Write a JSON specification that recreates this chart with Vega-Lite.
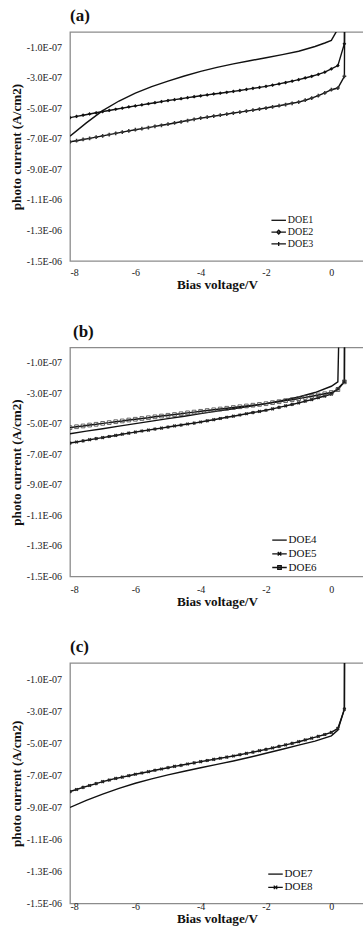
{
  "$schema": "https://vega.github.io/schema/vega-lite/v6.json",
  "background": "white",
  "padding": {"left": 8, "top": 6, "right": 0, "bottom": 0},
  "config": {
    "font": "Liberation Serif",
    "view": {"stroke": "#8c8c8c", "strokeWidth": 1.3},
    "axis": {"grid": false, "domain": false, "ticks": false, "tickSize": 0, "labelFont": "Liberation Serif", "labelFontSize": 10, "labelColor": "#222", "titleFont": "Liberation Serif", "titleFontWeight": "bold", "titleFontSize": 13.2, "titleColor": "#111"},
    "title": {"font": "Liberation Serif", "fontWeight": "bold", "fontSize": 17, "anchor": "start", "frame": "group", "color": "#111", "offset": 7},
    "legend": {"labelFont": "Liberation Serif", "labelColor": "#111", "symbolStrokeWidth": 1.3, "symbolStrokeColor": "#111", "symbolFillColor": "transparent", "symbolOpacity": 1, "padding": 0, "labelOffset": 3, "symbolSize": 100}
  },
  "datasets": {
    "a": [
      {"series": "DOE1", "bias": -8, "current": -6.82e-7},
      {"series": "DOE1", "bias": -7.5, "current": -5.95e-7},
      {"series": "DOE1", "bias": -7, "current": -5.15e-7},
      {"series": "DOE1", "bias": -6.5, "current": -4.52e-7},
      {"series": "DOE1", "bias": -6, "current": -4.0e-7},
      {"series": "DOE1", "bias": -5.5, "current": -3.58e-7},
      {"series": "DOE1", "bias": -5, "current": -3.22e-7},
      {"series": "DOE1", "bias": -4.5, "current": -2.88e-7},
      {"series": "DOE1", "bias": -4, "current": -2.58e-7},
      {"series": "DOE1", "bias": -3.5, "current": -2.32e-7},
      {"series": "DOE1", "bias": -3, "current": -2.09e-7},
      {"series": "DOE1", "bias": -2.5, "current": -1.88e-7},
      {"series": "DOE1", "bias": -2, "current": -1.69e-7},
      {"series": "DOE1", "bias": -1.5, "current": -1.48e-7},
      {"series": "DOE1", "bias": -1, "current": -1.26e-7},
      {"series": "DOE1", "bias": -0.5, "current": -0.95e-7},
      {"series": "DOE1", "bias": -0.2, "current": -0.72e-7},
      {"series": "DOE1", "bias": 0, "current": -0.55e-7},
      {"series": "DOE1", "bias": 0.2, "current": 0.2e-7},
      {"series": "DOE1", "bias": 0.4, "current": 2e-6},
      {"series": "DOE2", "bias": -8, "current": -5.61e-7},
      {"series": "DOE2", "bias": -7.8, "current": -5.53e-7},
      {"series": "DOE2", "bias": -7.6, "current": -5.45e-7},
      {"series": "DOE2", "bias": -7.4, "current": -5.37e-7},
      {"series": "DOE2", "bias": -7.2, "current": -5.29e-7},
      {"series": "DOE2", "bias": -7, "current": -5.21e-7},
      {"series": "DOE2", "bias": -6.8, "current": -5.14e-7},
      {"series": "DOE2", "bias": -6.6, "current": -5.06e-7},
      {"series": "DOE2", "bias": -6.4, "current": -4.99e-7},
      {"series": "DOE2", "bias": -6.2, "current": -4.91e-7},
      {"series": "DOE2", "bias": -6, "current": -4.84e-7},
      {"series": "DOE2", "bias": -5.8, "current": -4.77e-7},
      {"series": "DOE2", "bias": -5.6, "current": -4.7e-7},
      {"series": "DOE2", "bias": -5.4, "current": -4.63e-7},
      {"series": "DOE2", "bias": -5.2, "current": -4.56e-7},
      {"series": "DOE2", "bias": -5, "current": -4.49e-7},
      {"series": "DOE2", "bias": -4.8, "current": -4.43e-7},
      {"series": "DOE2", "bias": -4.6, "current": -4.37e-7},
      {"series": "DOE2", "bias": -4.4, "current": -4.3e-7},
      {"series": "DOE2", "bias": -4.2, "current": -4.24e-7},
      {"series": "DOE2", "bias": -4, "current": -4.18e-7},
      {"series": "DOE2", "bias": -3.8, "current": -4.12e-7},
      {"series": "DOE2", "bias": -3.6, "current": -4.06e-7},
      {"series": "DOE2", "bias": -3.4, "current": -4.01e-7},
      {"series": "DOE2", "bias": -3.2, "current": -3.95e-7},
      {"series": "DOE2", "bias": -3, "current": -3.89e-7},
      {"series": "DOE2", "bias": -2.8, "current": -3.83e-7},
      {"series": "DOE2", "bias": -2.6, "current": -3.76e-7},
      {"series": "DOE2", "bias": -2.4, "current": -3.69e-7},
      {"series": "DOE2", "bias": -2.2, "current": -3.63e-7},
      {"series": "DOE2", "bias": -2, "current": -3.56e-7},
      {"series": "DOE2", "bias": -1.8, "current": -3.48e-7},
      {"series": "DOE2", "bias": -1.6, "current": -3.4e-7},
      {"series": "DOE2", "bias": -1.4, "current": -3.31e-7},
      {"series": "DOE2", "bias": -1.2, "current": -3.22e-7},
      {"series": "DOE2", "bias": -1, "current": -3.12e-7},
      {"series": "DOE2", "bias": -0.8, "current": -3.01e-7},
      {"series": "DOE2", "bias": -0.6, "current": -2.9e-7},
      {"series": "DOE2", "bias": -0.4, "current": -2.78e-7},
      {"series": "DOE2", "bias": -0.2, "current": -2.63e-7},
      {"series": "DOE2", "bias": 0, "current": -2.42e-7},
      {"series": "DOE2", "bias": 0.2, "current": -2.2e-7},
      {"series": "DOE2", "bias": 0.4, "current": -0.77e-7},
      {"series": "DOE2", "bias": 0.42, "current": 2e-6},
      {"series": "DOE3", "bias": -8, "current": -7.19e-7},
      {"series": "DOE3", "bias": -7.8, "current": -7.12e-7},
      {"series": "DOE3", "bias": -7.6, "current": -7.04e-7},
      {"series": "DOE3", "bias": -7.4, "current": -6.97e-7},
      {"series": "DOE3", "bias": -7.2, "current": -6.89e-7},
      {"series": "DOE3", "bias": -7, "current": -6.8e-7},
      {"series": "DOE3", "bias": -6.8, "current": -6.72e-7},
      {"series": "DOE3", "bias": -6.6, "current": -6.64e-7},
      {"series": "DOE3", "bias": -6.4, "current": -6.56e-7},
      {"series": "DOE3", "bias": -6.2, "current": -6.48e-7},
      {"series": "DOE3", "bias": -6, "current": -6.4e-7},
      {"series": "DOE3", "bias": -5.8, "current": -6.33e-7},
      {"series": "DOE3", "bias": -5.6, "current": -6.26e-7},
      {"series": "DOE3", "bias": -5.4, "current": -6.18e-7},
      {"series": "DOE3", "bias": -5.2, "current": -6.11e-7},
      {"series": "DOE3", "bias": -5, "current": -6.04e-7},
      {"series": "DOE3", "bias": -4.8, "current": -5.96e-7},
      {"series": "DOE3", "bias": -4.6, "current": -5.88e-7},
      {"series": "DOE3", "bias": -4.4, "current": -5.8e-7},
      {"series": "DOE3", "bias": -4.2, "current": -5.72e-7},
      {"series": "DOE3", "bias": -4, "current": -5.64e-7},
      {"series": "DOE3", "bias": -3.8, "current": -5.58e-7},
      {"series": "DOE3", "bias": -3.6, "current": -5.51e-7},
      {"series": "DOE3", "bias": -3.4, "current": -5.45e-7},
      {"series": "DOE3", "bias": -3.2, "current": -5.38e-7},
      {"series": "DOE3", "bias": -3, "current": -5.31e-7},
      {"series": "DOE3", "bias": -2.8, "current": -5.25e-7},
      {"series": "DOE3", "bias": -2.6, "current": -5.18e-7},
      {"series": "DOE3", "bias": -2.4, "current": -5.12e-7},
      {"series": "DOE3", "bias": -2.2, "current": -5.05e-7},
      {"series": "DOE3", "bias": -2, "current": -4.98e-7},
      {"series": "DOE3", "bias": -1.8, "current": -4.9e-7},
      {"series": "DOE3", "bias": -1.6, "current": -4.83e-7},
      {"series": "DOE3", "bias": -1.4, "current": -4.75e-7},
      {"series": "DOE3", "bias": -1.2, "current": -4.67e-7},
      {"series": "DOE3", "bias": -1, "current": -4.59e-7},
      {"series": "DOE3", "bias": -0.8, "current": -4.47e-7},
      {"series": "DOE3", "bias": -0.6, "current": -4.33e-7},
      {"series": "DOE3", "bias": -0.4, "current": -4.17e-7},
      {"series": "DOE3", "bias": -0.2, "current": -3.99e-7},
      {"series": "DOE3", "bias": 0, "current": -3.78e-7},
      {"series": "DOE3", "bias": 0.2, "current": -3.67e-7},
      {"series": "DOE3", "bias": 0.4, "current": -2.9e-7},
      {"series": "DOE3", "bias": 0.45, "current": 2e-6}
    ],
    "b": [
      {"series": "DOE4", "bias": -8, "current": -5.65e-7},
      {"series": "DOE4", "bias": -7.5, "current": -5.48e-7},
      {"series": "DOE4", "bias": -7, "current": -5.32e-7},
      {"series": "DOE4", "bias": -6.5, "current": -5.15e-7},
      {"series": "DOE4", "bias": -6, "current": -4.99e-7},
      {"series": "DOE4", "bias": -5.5, "current": -4.82e-7},
      {"series": "DOE4", "bias": -5, "current": -4.66e-7},
      {"series": "DOE4", "bias": -4.5, "current": -4.5e-7},
      {"series": "DOE4", "bias": -4, "current": -4.33e-7},
      {"series": "DOE4", "bias": -3.5, "current": -4.17e-7},
      {"series": "DOE4", "bias": -3, "current": -4.01e-7},
      {"series": "DOE4", "bias": -2.5, "current": -3.85e-7},
      {"series": "DOE4", "bias": -2, "current": -3.68e-7},
      {"series": "DOE4", "bias": -1.5, "current": -3.47e-7},
      {"series": "DOE4", "bias": -1, "current": -3.24e-7},
      {"series": "DOE4", "bias": -0.5, "current": -2.95e-7},
      {"series": "DOE4", "bias": 0, "current": -2.54e-7},
      {"series": "DOE4", "bias": 0.2, "current": -2.25e-7},
      {"series": "DOE4", "bias": 0.42, "current": 2e-6},
      {"series": "DOE5", "bias": -8, "current": -6.26e-7},
      {"series": "DOE5", "bias": -7.8, "current": -6.19e-7},
      {"series": "DOE5", "bias": -7.6, "current": -6.12e-7},
      {"series": "DOE5", "bias": -7.4, "current": -6.04e-7},
      {"series": "DOE5", "bias": -7.2, "current": -5.97e-7},
      {"series": "DOE5", "bias": -7, "current": -5.9e-7},
      {"series": "DOE5", "bias": -6.8, "current": -5.83e-7},
      {"series": "DOE5", "bias": -6.6, "current": -5.76e-7},
      {"series": "DOE5", "bias": -6.4, "current": -5.68e-7},
      {"series": "DOE5", "bias": -6.2, "current": -5.61e-7},
      {"series": "DOE5", "bias": -6, "current": -5.54e-7},
      {"series": "DOE5", "bias": -5.8, "current": -5.47e-7},
      {"series": "DOE5", "bias": -5.6, "current": -5.41e-7},
      {"series": "DOE5", "bias": -5.4, "current": -5.34e-7},
      {"series": "DOE5", "bias": -5.2, "current": -5.28e-7},
      {"series": "DOE5", "bias": -5, "current": -5.21e-7},
      {"series": "DOE5", "bias": -4.8, "current": -5.14e-7},
      {"series": "DOE5", "bias": -4.6, "current": -5.08e-7},
      {"series": "DOE5", "bias": -4.4, "current": -5.01e-7},
      {"series": "DOE5", "bias": -4.2, "current": -4.95e-7},
      {"series": "DOE5", "bias": -4, "current": -4.88e-7},
      {"series": "DOE5", "bias": -3.8, "current": -4.8e-7},
      {"series": "DOE5", "bias": -3.6, "current": -4.73e-7},
      {"series": "DOE5", "bias": -3.4, "current": -4.65e-7},
      {"series": "DOE5", "bias": -3.2, "current": -4.57e-7},
      {"series": "DOE5", "bias": -3, "current": -4.5e-7},
      {"series": "DOE5", "bias": -2.8, "current": -4.42e-7},
      {"series": "DOE5", "bias": -2.6, "current": -4.34e-7},
      {"series": "DOE5", "bias": -2.4, "current": -4.26e-7},
      {"series": "DOE5", "bias": -2.2, "current": -4.19e-7},
      {"series": "DOE5", "bias": -2, "current": -4.11e-7},
      {"series": "DOE5", "bias": -1.8, "current": -4.02e-7},
      {"series": "DOE5", "bias": -1.6, "current": -3.92e-7},
      {"series": "DOE5", "bias": -1.4, "current": -3.82e-7},
      {"series": "DOE5", "bias": -1.2, "current": -3.73e-7},
      {"series": "DOE5", "bias": -1, "current": -3.63e-7},
      {"series": "DOE5", "bias": -0.8, "current": -3.52e-7},
      {"series": "DOE5", "bias": -0.6, "current": -3.41e-7},
      {"series": "DOE5", "bias": -0.4, "current": -3.29e-7},
      {"series": "DOE5", "bias": -0.2, "current": -3.18e-7},
      {"series": "DOE5", "bias": 0, "current": -3.06e-7},
      {"series": "DOE5", "bias": 0.2, "current": -2.69e-7},
      {"series": "DOE5", "bias": 0.4, "current": -2.25e-7},
      {"series": "DOE5", "bias": 0.43, "current": 2e-6},
      {"series": "DOE6", "bias": -8, "current": -5.25e-7},
      {"series": "DOE6", "bias": -7.8, "current": -5.19e-7},
      {"series": "DOE6", "bias": -7.6, "current": -5.14e-7},
      {"series": "DOE6", "bias": -7.4, "current": -5.08e-7},
      {"series": "DOE6", "bias": -7.2, "current": -5.03e-7},
      {"series": "DOE6", "bias": -7, "current": -4.97e-7},
      {"series": "DOE6", "bias": -6.8, "current": -4.92e-7},
      {"series": "DOE6", "bias": -6.6, "current": -4.86e-7},
      {"series": "DOE6", "bias": -6.4, "current": -4.81e-7},
      {"series": "DOE6", "bias": -6.2, "current": -4.75e-7},
      {"series": "DOE6", "bias": -6, "current": -4.7e-7},
      {"series": "DOE6", "bias": -5.8, "current": -4.65e-7},
      {"series": "DOE6", "bias": -5.6, "current": -4.6e-7},
      {"series": "DOE6", "bias": -5.4, "current": -4.54e-7},
      {"series": "DOE6", "bias": -5.2, "current": -4.49e-7},
      {"series": "DOE6", "bias": -5, "current": -4.44e-7},
      {"series": "DOE6", "bias": -4.8, "current": -4.39e-7},
      {"series": "DOE6", "bias": -4.6, "current": -4.34e-7},
      {"series": "DOE6", "bias": -4.4, "current": -4.28e-7},
      {"series": "DOE6", "bias": -4.2, "current": -4.23e-7},
      {"series": "DOE6", "bias": -4, "current": -4.18e-7},
      {"series": "DOE6", "bias": -3.8, "current": -4.13e-7},
      {"series": "DOE6", "bias": -3.6, "current": -4.08e-7},
      {"series": "DOE6", "bias": -3.4, "current": -4.03e-7},
      {"series": "DOE6", "bias": -3.2, "current": -3.98e-7},
      {"series": "DOE6", "bias": -3, "current": -3.93e-7},
      {"series": "DOE6", "bias": -2.8, "current": -3.88e-7},
      {"series": "DOE6", "bias": -2.6, "current": -3.83e-7},
      {"series": "DOE6", "bias": -2.4, "current": -3.78e-7},
      {"series": "DOE6", "bias": -2.2, "current": -3.73e-7},
      {"series": "DOE6", "bias": -2, "current": -3.68e-7},
      {"series": "DOE6", "bias": -1.8, "current": -3.61e-7},
      {"series": "DOE6", "bias": -1.6, "current": -3.55e-7},
      {"series": "DOE6", "bias": -1.4, "current": -3.48e-7},
      {"series": "DOE6", "bias": -1.2, "current": -3.42e-7},
      {"series": "DOE6", "bias": -1, "current": -3.35e-7},
      {"series": "DOE6", "bias": -0.8, "current": -3.27e-7},
      {"series": "DOE6", "bias": -0.6, "current": -3.19e-7},
      {"series": "DOE6", "bias": -0.4, "current": -3.11e-7},
      {"series": "DOE6", "bias": -0.2, "current": -3.03e-7},
      {"series": "DOE6", "bias": 0, "current": -2.95e-7},
      {"series": "DOE6", "bias": 0.2, "current": -2.76e-7},
      {"series": "DOE6", "bias": 0.4, "current": -2.25e-7},
      {"series": "DOE6", "bias": 0.43, "current": 2e-6}
    ],
    "c": [
      {"series": "DOE7", "bias": -8, "current": -9.01e-7},
      {"series": "DOE7", "bias": -7.5, "current": -8.57e-7},
      {"series": "DOE7", "bias": -7, "current": -8.18e-7},
      {"series": "DOE7", "bias": -6.5, "current": -7.82e-7},
      {"series": "DOE7", "bias": -6, "current": -7.5e-7},
      {"series": "DOE7", "bias": -5.5, "current": -7.23e-7},
      {"series": "DOE7", "bias": -5, "current": -6.98e-7},
      {"series": "DOE7", "bias": -4.5, "current": -6.75e-7},
      {"series": "DOE7", "bias": -4, "current": -6.53e-7},
      {"series": "DOE7", "bias": -3.5, "current": -6.32e-7},
      {"series": "DOE7", "bias": -3, "current": -6.11e-7},
      {"series": "DOE7", "bias": -2.5, "current": -5.88e-7},
      {"series": "DOE7", "bias": -2, "current": -5.63e-7},
      {"series": "DOE7", "bias": -1.5, "current": -5.38e-7},
      {"series": "DOE7", "bias": -1, "current": -5.12e-7},
      {"series": "DOE7", "bias": -0.5, "current": -4.87e-7},
      {"series": "DOE7", "bias": 0, "current": -4.54e-7},
      {"series": "DOE7", "bias": 0.2, "current": -4.18e-7},
      {"series": "DOE7", "bias": 0.4, "current": -2.88e-7},
      {"series": "DOE7", "bias": 0.42, "current": 2e-6},
      {"series": "DOE8", "bias": -8, "current": -8.02e-7},
      {"series": "DOE8", "bias": -7.8, "current": -7.89e-7},
      {"series": "DOE8", "bias": -7.6, "current": -7.76e-7},
      {"series": "DOE8", "bias": -7.4, "current": -7.64e-7},
      {"series": "DOE8", "bias": -7.2, "current": -7.52e-7},
      {"series": "DOE8", "bias": -7, "current": -7.4e-7},
      {"series": "DOE8", "bias": -6.8, "current": -7.3e-7},
      {"series": "DOE8", "bias": -6.6, "current": -7.2e-7},
      {"series": "DOE8", "bias": -6.4, "current": -7.12e-7},
      {"series": "DOE8", "bias": -6.2, "current": -7.03e-7},
      {"series": "DOE8", "bias": -6, "current": -6.94e-7},
      {"series": "DOE8", "bias": -5.8, "current": -6.86e-7},
      {"series": "DOE8", "bias": -5.6, "current": -6.78e-7},
      {"series": "DOE8", "bias": -5.4, "current": -6.69e-7},
      {"series": "DOE8", "bias": -5.2, "current": -6.61e-7},
      {"series": "DOE8", "bias": -5, "current": -6.53e-7},
      {"series": "DOE8", "bias": -4.8, "current": -6.45e-7},
      {"series": "DOE8", "bias": -4.6, "current": -6.38e-7},
      {"series": "DOE8", "bias": -4.4, "current": -6.3e-7},
      {"series": "DOE8", "bias": -4.2, "current": -6.23e-7},
      {"series": "DOE8", "bias": -4, "current": -6.15e-7},
      {"series": "DOE8", "bias": -3.8, "current": -6.08e-7},
      {"series": "DOE8", "bias": -3.6, "current": -6.01e-7},
      {"series": "DOE8", "bias": -3.4, "current": -5.94e-7},
      {"series": "DOE8", "bias": -3.2, "current": -5.87e-7},
      {"series": "DOE8", "bias": -3, "current": -5.8e-7},
      {"series": "DOE8", "bias": -2.8, "current": -5.72e-7},
      {"series": "DOE8", "bias": -2.6, "current": -5.64e-7},
      {"series": "DOE8", "bias": -2.4, "current": -5.56e-7},
      {"series": "DOE8", "bias": -2.2, "current": -5.47e-7},
      {"series": "DOE8", "bias": -2, "current": -5.39e-7},
      {"series": "DOE8", "bias": -1.8, "current": -5.3e-7},
      {"series": "DOE8", "bias": -1.6, "current": -5.2e-7},
      {"series": "DOE8", "bias": -1.4, "current": -5.11e-7},
      {"series": "DOE8", "bias": -1.2, "current": -5.01e-7},
      {"series": "DOE8", "bias": -1, "current": -4.91e-7},
      {"series": "DOE8", "bias": -0.8, "current": -4.8e-7},
      {"series": "DOE8", "bias": -0.6, "current": -4.69e-7},
      {"series": "DOE8", "bias": -0.4, "current": -4.58e-7},
      {"series": "DOE8", "bias": -0.2, "current": -4.46e-7},
      {"series": "DOE8", "bias": 0, "current": -4.33e-7},
      {"series": "DOE8", "bias": 0.2, "current": -4.08e-7},
      {"series": "DOE8", "bias": 0.4, "current": -2.88e-7},
      {"series": "DOE8", "bias": 0.43, "current": 2e-6}
    ]
  },
  "bounds": "flush",
  "spacing": 86.5,
  "resolve": {"scale": {"shape": "independent"}, "legend": {"shape": "independent"}},
  "vconcat": [
    {
      "title": {"text": "(a)"},
      "width": 294,
      "height": 229,
      "data": {"name": "a"},
      "encoding": {
        "x": {"field": "bias", "type": "quantitative", "scale": {"domain": [-8, 1], "nice": false, "zero": false}, "axis": {"values": [-8, -6, -4, -2, 0], "labelExpr": "datum.value === 0 ? '0' : '-' + abs(datum.value)", "title": "Bias voltage/V", "labelPadding": 11.3, "labelBaseline": "middle", "titleY": 23.2, "titleBaseline": "middle"}},
        "y": {"field": "current", "type": "quantitative", "scale": {"domain": [-1.5e-6, 0], "nice": false, "zero": false}, "axis": {"values": [-1e-7, -3e-7, -5e-7, -7e-7, -9e-7, -1.1e-6, -1.3e-6, -1.5e-6], "labelExpr": "datum.value > -9.5e-7 ? '-' + format(-datum.value * 1e7, '.1f') + 'E-07' : '-' + format(-datum.value * 1e6, '.1f') + 'E-06'", "title": "photo current (A/cm2)", "labelPadding": 8.5, "titlePadding": 3}}
      },
      "layer": [
        {"data": {"values": [{}]}, "mark": {"type": "rule", "color": "#8c8c8c", "strokeWidth": 1.3}, "encoding": {"x": {"datum": 0}, "y": {"datum": -1.5e-6}, "y2": {"datum": 0}}},
        {"mark": {"type": "line", "clip": true, "strokeWidth": 1.4, "color": "#111"}, "encoding": {"detail": {"field": "series", "type": "nominal"}}},
        {"transform": [{"filter": "datum.series === 'DOE2'"}], "mark": {"type": "point", "filled": true, "size": 14, "clip": true, "opacity": 1, "color": "#111", "shape": "diamond"}, "encoding": {}},
        {"transform": [{"filter": "datum.series === 'DOE3'"}], "mark": {"type": "point", "filled": true, "size": 14, "clip": true, "opacity": 1, "color": "#333", "shape": "cross"}, "encoding": {}},
        {"transform": [{"filter": "datum.bias > 100"}], "mark": {"type": "point", "filled": false, "color": "#111", "strokeWidth": 1.3}, "encoding": {"shape": {"field": "series", "type": "nominal", "scale": {"domain": ["DOE1", "DOE2", "DOE3"], "range": ["M-1.45,0L1.45,0", "M-1.45,0L1.45,0M-0.4,0L0,-0.4L0.4,0L0,0.4Z", "M-1.45,0L1.45,0M0,-0.4L0,0.4"]}, "legend": {"title": null, "orient": "none", "legendX": 202.7, "legendY": 182.3, "labelFontSize": 10, "rowPadding": 0.8}}}}
      ]
    },
    {
      "title": {"text": "(b)", "dx": 3},
      "width": 294,
      "height": 229,
      "data": {"name": "b"},
      "encoding": {
        "x": {"field": "bias", "type": "quantitative", "scale": {"domain": [-8, 1], "nice": false, "zero": false}, "axis": {"values": [-8, -6, -4, -2, 0], "labelExpr": "datum.value === 0 ? '0' : '-' + abs(datum.value)", "title": "Bias voltage/V", "labelPadding": 12.7, "labelBaseline": "middle", "titleY": 24.6, "titleBaseline": "middle"}},
        "y": {"field": "current", "type": "quantitative", "scale": {"domain": [-1.5e-6, 0], "nice": false, "zero": false}, "axis": {"values": [-1e-7, -3e-7, -5e-7, -7e-7, -9e-7, -1.1e-6, -1.3e-6, -1.5e-6], "labelExpr": "datum.value > -9.5e-7 ? '-' + format(-datum.value * 1e7, '.1f') + 'E-07' : '-' + format(-datum.value * 1e6, '.1f') + 'E-06'", "title": "photo current (A/cm2)", "labelPadding": 8.5, "titlePadding": 3}}
      },
      "layer": [
        {"data": {"values": [{}]}, "mark": {"type": "rule", "color": "#8c8c8c", "strokeWidth": 1.3}, "encoding": {"x": {"datum": 0}, "y": {"datum": -1.5e-6}, "y2": {"datum": 0}}},
        {"mark": {"type": "line", "clip": true, "strokeWidth": 1.4, "color": "#111"}, "encoding": {"detail": {"field": "series", "type": "nominal"}}},
        {"transform": [{"filter": "datum.series === 'DOE5'"}], "mark": {"type": "point", "filled": true, "size": 14, "clip": true, "opacity": 1, "color": "#222", "shape": "cross", "angle": 45}, "encoding": {}},
        {"transform": [{"filter": "datum.series === 'DOE6'"}], "mark": {"type": "point", "filled": false, "size": 14, "clip": true, "opacity": 1, "color": "#444", "strokeWidth": 0.8, "shape": "square"}, "encoding": {}},
        {"transform": [{"filter": "datum.bias > 100"}], "mark": {"type": "point", "filled": false, "color": "#111", "strokeWidth": 1.3}, "encoding": {"shape": {"field": "series", "type": "nominal", "scale": {"domain": ["DOE4", "DOE5", "DOE6"], "range": ["M-1.45,0L1.45,0", "M-1.45,0L1.45,0M-0.35,-0.35L0.35,0.35M-0.35,0.35L0.35,-0.35", "M-1.45,0L1.45,0M-0.35,-0.35L0.35,-0.35L0.35,0.35L-0.35,0.35Z"]}, "legend": {"title": null, "orient": "none", "legendX": 203.5, "legendY": 186.6, "labelFontSize": 11, "rowPadding": 2.7}}}}
      ]
    },
    {
      "title": {"text": "(c)"},
      "width": 294,
      "height": 240.5,
      "data": {"name": "c"},
      "encoding": {
        "x": {"field": "bias", "type": "quantitative", "scale": {"domain": [-8, 1], "nice": false, "zero": false}, "axis": {"values": [-8, -6, -4, -2, 0], "labelExpr": "datum.value === 0 ? '0' : '-' + abs(datum.value)", "title": "Bias voltage/V", "labelPadding": 3, "labelBaseline": "middle", "titleY": 15.3, "titleBaseline": "middle"}},
        "y": {"field": "current", "type": "quantitative", "scale": {"domain": [-1.5e-6, 0], "nice": false, "zero": false}, "axis": {"values": [-1e-7, -3e-7, -5e-7, -7e-7, -9e-7, -1.1e-6, -1.3e-6, -1.5e-6], "labelExpr": "datum.value > -9.5e-7 ? '-' + format(-datum.value * 1e7, '.1f') + 'E-07' : '-' + format(-datum.value * 1e6, '.1f') + 'E-06'", "title": "photo current (A/cm2)", "labelPadding": 8.5, "titlePadding": 3}}
      },
      "layer": [
        {"data": {"values": [{}]}, "mark": {"type": "rule", "color": "#8c8c8c", "strokeWidth": 1.3}, "encoding": {"x": {"datum": 0}, "y": {"datum": -1.5e-6}, "y2": {"datum": 0}}},
        {"mark": {"type": "line", "clip": true, "strokeWidth": 1.4, "color": "#111"}, "encoding": {"detail": {"field": "series", "type": "nominal"}}},
        {"transform": [{"filter": "datum.series === 'DOE8'"}], "mark": {"type": "point", "filled": true, "size": 14, "clip": true, "opacity": 1, "color": "#222", "shape": "cross", "angle": 45}, "encoding": {}},
        {"transform": [{"filter": "datum.bias > 100"}], "mark": {"type": "point", "filled": false, "color": "#111", "strokeWidth": 1.3}, "encoding": {"shape": {"field": "series", "type": "nominal", "scale": {"domain": ["DOE7", "DOE8"], "range": ["M-1.45,0L1.45,0", "M-1.45,0L1.45,0M-0.35,-0.35L0.35,0.35M-0.35,0.35L0.35,-0.35"]}, "legend": {"title": null, "orient": "none", "legendX": 199.5, "legendY": 205.1, "labelFontSize": 11, "rowPadding": 2.3}}}}
      ]
    }
  ]
}
